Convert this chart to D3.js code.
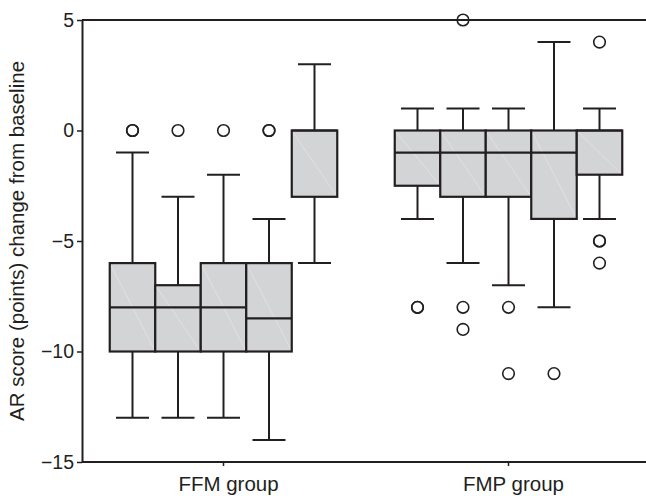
<!DOCTYPE html>
<html>
<head>
<meta charset="utf-8">
<script src="https://cdn.jsdelivr.net/npm/d3@7/dist/d3.min.js"></script>
<style>
  body { margin: 0; background: #fff; }
  svg { display: block; font-family: "Liberation Sans", Arial, sans-serif; }
</style>
</head>
<body>
<div id="chart"></div>
<script>
// groups on the x axis, five boxes in each
const groups = ['FFM group', 'FMP group'];
const boxIds = [1, 2, 3, 4, 5];

// box statistics, one row per group
const whiskerLow  = [[-13, -13, -13, -14, -6], [-4, -6, -7, -8, -4]];
const q1          = [[-10, -10, -10, -10, -3], [-2.5, -3, -3, -4, -2]];
const median      = [[-8, -8, -8, -8.5, 0],    [-1, -1, -1, -1, 0]];
const q3          = [[-6, -7, -6, -6, 0],      [0, 0, 0, 0, 0]];
const whiskerHigh = [[-1, -3, -2, -4, 3],      [1, 1, 1, 4, 1]];
// outliers (repeated values are drawn twice, which makes them look bolder)
const outliers = [
    [[0, 0], [0], [0], [0, 0], []],
    [[-8, -8], [5, -8, -9], [-8, -11], [-11], [4, -5, -5, -6]]
];

const yTicks = [5, 0, -5, -10, -15];

// chart dimensions
let dim = { width: 646, height: 496 };
let margin = { top: 20, left: 82, bottom: 34 };

let svg = d3.select('#chart')
    .append('svg')
    .attr('width', dim.width)
    .attr('height', dim.height);

// y scale
let scaleY = d3.scaleLinear()
    .domain([-15, 5])
    .range([dim.height - margin.bottom, margin.top]);

// x scale for the groups
let scaleX = d3.scaleBand()
    .domain(groups)
    .range([81, 651]);

// x scale for the boxes inside a group
let boxWidth = 45.5;
let scaleBox = d3.scaleBand()
    .domain(boxIds)
    .range([-boxWidth * 2.5, boxWidth * 2.5]);

// flatten to one record per box
let boxes = [];
groups.forEach((g, gi) => {
    boxIds.forEach((b, bi) => {
        boxes.push({
            group: g, id: b,
            lo: whiskerLow[gi][bi], q1: q1[gi][bi], med: median[gi][bi],
            q3: q3[gi][bi], hi: whiskerHigh[gi][bi], out: outliers[gi][bi]
        });
    });
});

const ink = '#231f20';
const font = '"Liberation Sans", Arial, sans-serif';

// frame: top line
svg.append('line')
    .attr('x1', margin.left).attr('x2', dim.width)
    .attr('y1', scaleY(5)).attr('y2', scaleY(5))
    .attr('stroke', ink).attr('stroke-width', 2);

// y axis
let axisY = svg.append('g')
    .attr('transform', `translate(${margin.left}, 0)`)
    .call(d3.axisLeft(scaleY)
        .tickValues(yTicks)
        .tickFormat(d => d < 0 ? '\u2212' + Math.abs(d) : d)
        .tickSize(5)
        .tickSizeOuter(0));
axisY.select('.domain').attr('stroke', ink).attr('stroke-width', 2);
axisY.selectAll('line').attr('stroke', ink).attr('stroke-width', 1.5);
axisY.selectAll('text')
    .attr('font-size', 19.5)
    .attr('font-family', font)
    .attr('fill', ink)
    .attr('x', -8);

// x axis
let axisX = svg.append('g')
    .attr('transform', `translate(0, ${scaleY(-15)})`)
    .call(d3.axisBottom(scaleX).tickSize(4).tickSizeOuter(0));
axisX.select('.domain')
    .attr('d', `M${margin.left},0H${dim.width}`)
    .attr('stroke', ink).attr('stroke-width', 2);
axisX.selectAll('line').attr('stroke', ink).attr('stroke-width', 1.5);
axisX.selectAll('text')
    .attr('font-size', 20.5)
    .attr('font-family', font)
    .attr('fill', ink)
    .attr('dx', 5)
    .attr('y', 14.5);

// y axis title
svg.append('text')
    .attr('transform', `translate(24, ${scaleY(-5)}) rotate(-90)`)
    .attr('text-anchor', 'middle')
    .attr('font-size', 20.5)
    .attr('font-family', font)
    .attr('fill', ink)
    .text('AR score (points) change from baseline');

// one group element per box
let boxG = svg.append('g').selectAll('g')
    .data(boxes)
    .join('g')
    .attr('transform', d => `translate(${scaleX(d.group) + scaleX.bandwidth() / 2 + scaleBox(d.id)}, 0)`);

let bw = scaleBox.bandwidth();
let cx = bw / 2;
let cap = 33;

// whiskers
boxG.append('line')
    .attr('x1', cx).attr('x2', cx)
    .attr('y1', d => scaleY(d.hi)).attr('y2', d => scaleY(d.lo))
    .attr('stroke', ink).attr('stroke-width', 2);
boxG.append('line')
    .attr('x1', cx - cap / 2).attr('x2', cx + cap / 2)
    .attr('y1', d => scaleY(d.hi)).attr('y2', d => scaleY(d.hi))
    .attr('stroke', ink).attr('stroke-width', 2);
boxG.append('line')
    .attr('x1', cx - cap / 2).attr('x2', cx + cap / 2)
    .attr('y1', d => scaleY(d.lo)).attr('y2', d => scaleY(d.lo))
    .attr('stroke', ink).attr('stroke-width', 2);

// boxes
boxG.append('rect')
    .attr('x', 0).attr('width', bw)
    .attr('y', d => scaleY(d.q3))
    .attr('height', d => scaleY(d.q1) - scaleY(d.q3))
    .attr('fill', '#d3d4d6');
// faint diagonal seen inside the boxes
boxG.append('line')
    .attr('x1', 0).attr('x2', bw)
    .attr('y1', d => scaleY(d.q3)).attr('y2', d => scaleY(d.q1))
    .attr('stroke', '#fff').attr('stroke-opacity', 0.3).attr('stroke-width', 1);
boxG.append('rect')
    .attr('x', 0).attr('width', bw)
    .attr('y', d => scaleY(d.q3))
    .attr('height', d => scaleY(d.q1) - scaleY(d.q3))
    .attr('fill', 'none')
    .attr('stroke', ink).attr('stroke-width', 2.2);

// medians
boxG.append('line')
    .attr('x1', 0).attr('x2', bw)
    .attr('y1', d => scaleY(d.med)).attr('y2', d => scaleY(d.med))
    .attr('stroke', ink).attr('stroke-width', 2.2);

// outliers
boxG.selectAll('circle')
    .data(d => d.out)
    .join('circle')
    .attr('cx', cx)
    .attr('cy', d => scaleY(d))
    .attr('r', 5.8)
    .attr('fill', 'none')
    .attr('stroke', ink)
    .attr('stroke-width', 1.6);
</script>
</body>
</html>
